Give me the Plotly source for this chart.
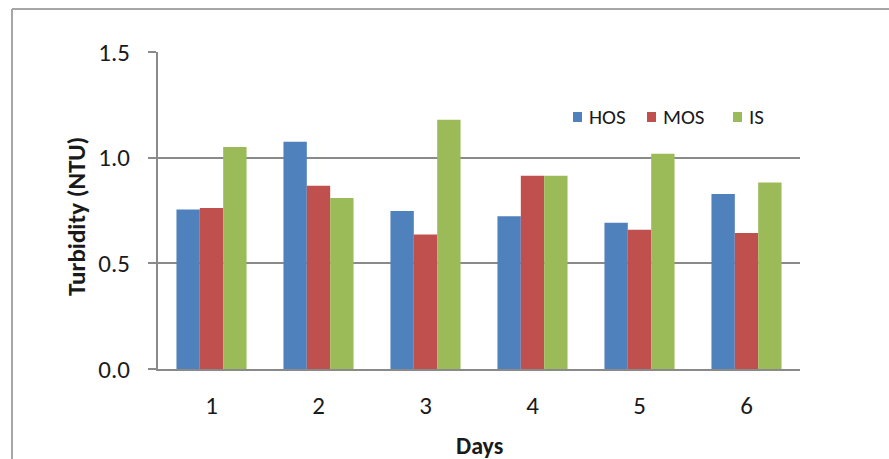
import plotly.graph_objects as go

days = ["1", "2", "3", "4", "5", "6"]
hos = [0.755, 1.075, 0.748, 0.723, 0.692, 0.828]
mos = [0.762, 0.867, 0.636, 0.914, 0.659, 0.644]
is_ = [1.051, 0.809, 1.180, 0.914, 1.019, 0.883]
y_ticks = [0.0, 0.5, 1.0, 1.5]
series_names = ["HOS", "MOS", "IS"]
series_colors = ["#4F81BD", "#C0504D", "#9BBB59"]

W, H = 889, 459
L, R, T, B = 158, 800, 52, 369

FONT = "Carlito, Lato, 'Open Sans', sans-serif"

fig = go.Figure()
for name, vals, col in zip(series_names, [hos, mos, is_], series_colors):
    fig.add_bar(x=days, y=vals, name=name, marker_color=col, marker_line_width=0, showlegend=False)

def px_x(p):
    return (p - L) / (R - L)

def px_y(p):
    return (B - p) / (B - T)

shapes = [
    dict(type="line", xref="paper", yref="paper", x0=px_x(12), x1=px_x(900), y0=px_y(9), y1=px_y(9),
         line=dict(color="#a6a6a6", width=2)),
    dict(type="line", xref="paper", yref="paper", x0=px_x(12), x1=px_x(12), y0=px_y(9), y1=px_y(470),
         line=dict(color="#a6a6a6", width=2)),
]

annotations = [
    dict(text="<b>Days</b>", xref="paper", yref="paper", x=0.5, y=px_y(445), showarrow=False,
         font=dict(family=FONT, size=24, color="#1a1a1a"), xanchor="center", yanchor="middle"),
    dict(text="<b>Turbidity (NTU)</b>", xref="paper", yref="paper", x=px_x(76), y=px_y(217), showarrow=False,
         textangle=-90, font=dict(family=FONT, size=25, color="#1a1a1a"), xanchor="center", yanchor="middle"),
]

# manual legend (square + label), matching reference placement
legend_sq_x = [573, 647, 733]
for name, col, sx in zip(series_names, series_colors, legend_sq_x):
    shapes.append(dict(type="rect", xref="paper", yref="paper",
                       x0=px_x(sx), x1=px_x(sx + 9), y0=px_y(122), y1=px_y(112),
                       fillcolor=col, line=dict(width=0)))
    annotations.append(dict(text=name, xref="paper", yref="paper", x=px_x(sx + 14), y=px_y(117),
                            showarrow=False, xanchor="left", yanchor="middle",
                            font=dict(family=FONT, size=21, color="#1a1a1a")))

fig.update_layout(
    width=W, height=H,
    margin=dict(l=L, r=W - R, t=T, b=H - B, pad=0),
    paper_bgcolor="white", plot_bgcolor="white",
    barmode="group", bargap=0.345, bargroupgap=0,
    font=dict(family=FONT, size=20, color="#1a1a1a"),
    showlegend=False,
    shapes=shapes,
    annotations=annotations,
)

fig.update_xaxes(type="category", showline=True, linecolor="#8a8a8a", linewidth=2,
                 ticks="", showgrid=False, ticklabelstandoff=13,
                 tickfont=dict(family=FONT, size=25, color="#1a1a1a"))
fig.update_yaxes(range=[0, 1.5], tickvals=y_ticks, tickformat=".1f",
                 showline=True, linecolor="#8a8a8a", linewidth=2,
                 ticks="outside", ticklen=8, tickcolor="#8a8a8a", tickwidth=2,
                 showgrid=True, gridcolor="#8a8a8a", gridwidth=2, zeroline=False,
                 ticklabelstandoff=13,
                 tickfont=dict(family=FONT, size=25, color="#1a1a1a"))

fig.write_html("out.html")
